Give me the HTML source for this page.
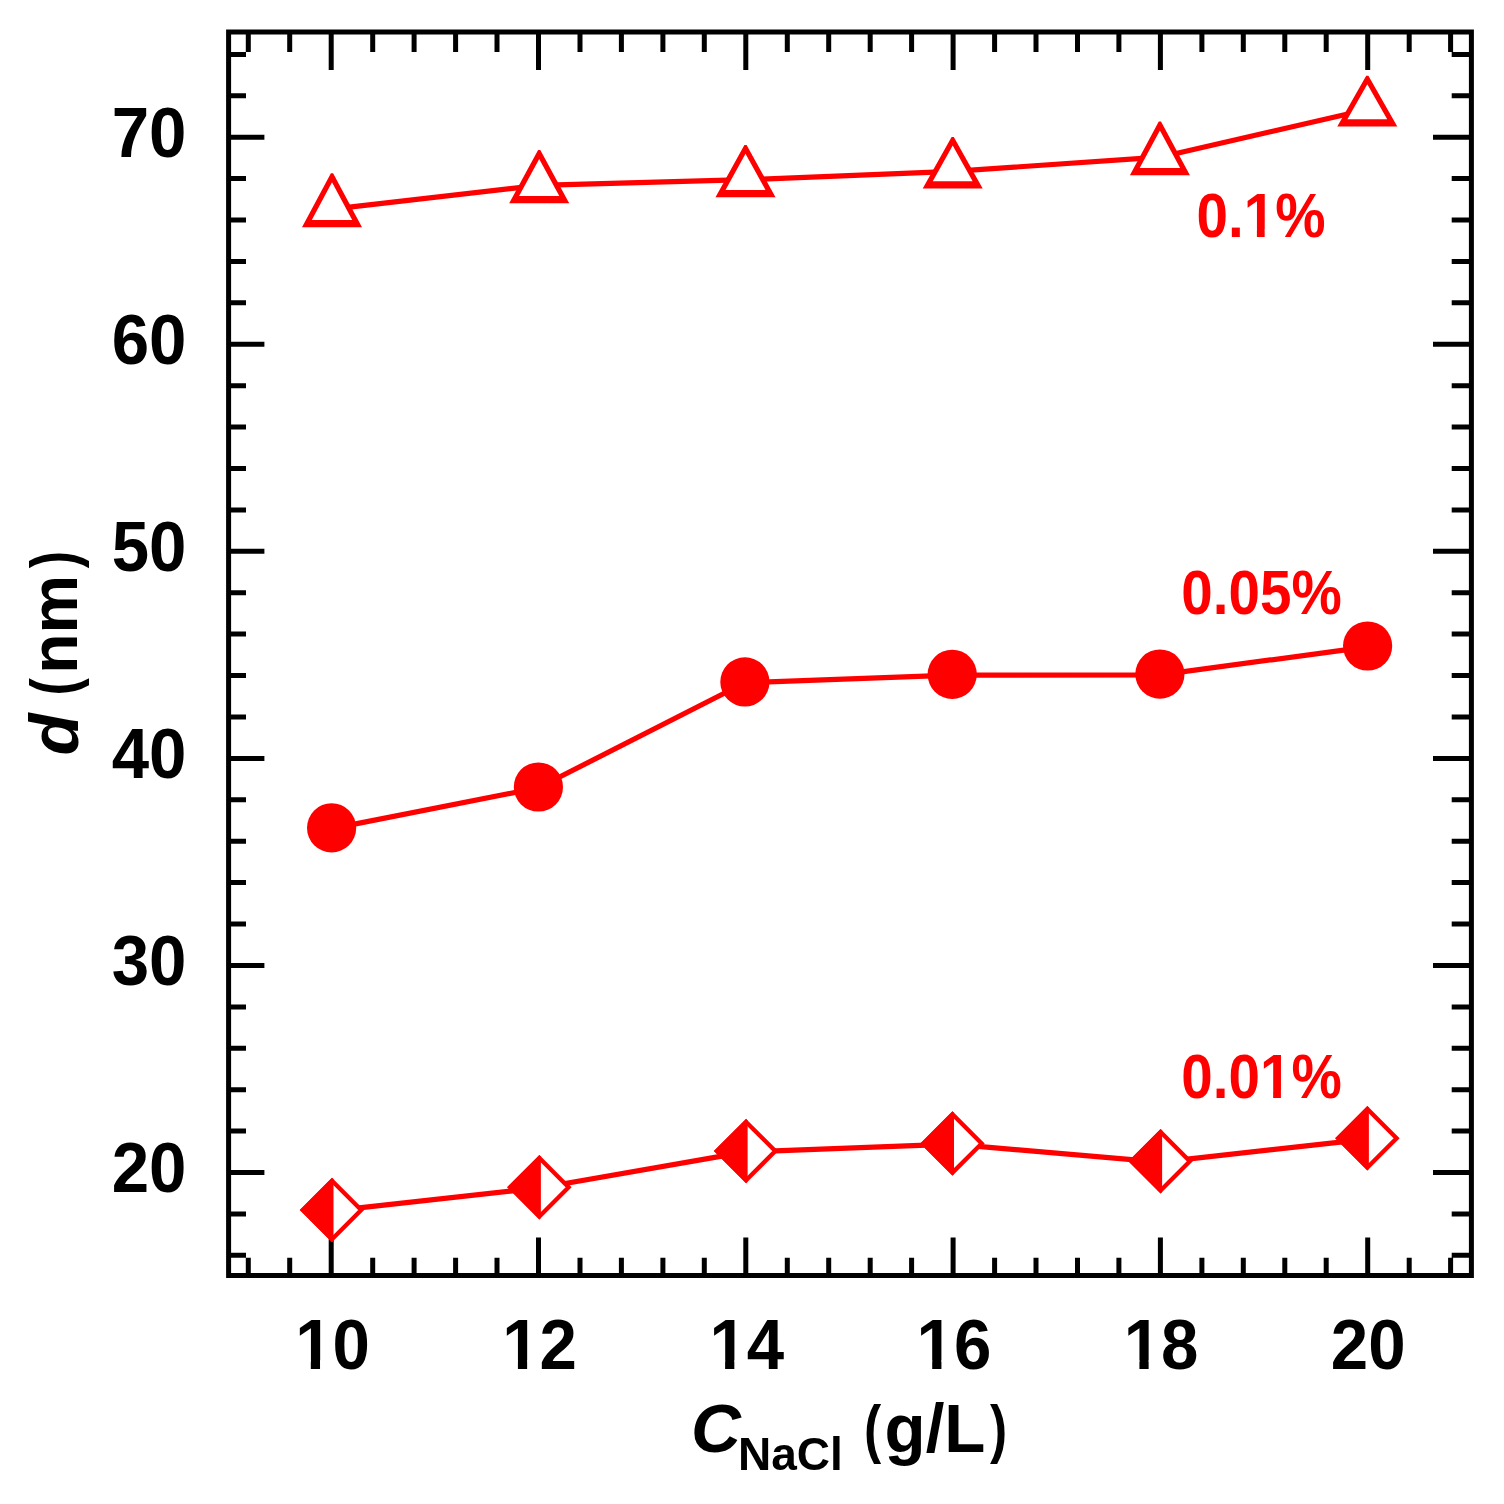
<!DOCTYPE html>
<html><head><meta charset="utf-8"><title>d vs C_NaCl</title>
<style>html,body{margin:0;padding:0;background:#fff;}svg{display:block;}</style></head>
<body><svg width="1504" height="1504" viewBox="0 0 1504 1504">
<rect width="1504" height="1504" fill="#fff"/>
<rect x="228.6" y="32.0" width="1242.8" height="1243.5" fill="none" stroke="#000" stroke-width="5.0"/>
<path d="M248.3 1275.5V1257.7M248.3 32.0V51.9M289.7 1275.5V1257.7M289.7 32.0V51.9M331.2 1275.5V1237.4M331.2 32.0V70.0M372.7 1275.5V1257.7M372.7 32.0V51.9M414.1 1275.5V1257.7M414.1 32.0V51.9M455.6 1275.5V1257.7M455.6 32.0V51.9M497.0 1275.5V1257.7M497.0 32.0V51.9M538.5 1275.5V1237.4M538.5 32.0V70.0M580.0 1275.5V1257.7M580.0 32.0V51.9M621.4 1275.5V1257.7M621.4 32.0V51.9M662.9 1275.5V1257.7M662.9 32.0V51.9M704.3 1275.5V1257.7M704.3 32.0V51.9M745.8 1275.5V1237.4M745.8 32.0V70.0M787.3 1275.5V1257.7M787.3 32.0V51.9M828.7 1275.5V1257.7M828.7 32.0V51.9M870.2 1275.5V1257.7M870.2 32.0V51.9M911.6 1275.5V1257.7M911.6 32.0V51.9M953.1 1275.5V1237.4M953.1 32.0V70.0M994.6 1275.5V1257.7M994.6 32.0V51.9M1036.0 1275.5V1257.7M1036.0 32.0V51.9M1077.5 1275.5V1257.7M1077.5 32.0V51.9M1118.9 1275.5V1257.7M1118.9 32.0V51.9M1160.4 1275.5V1237.4M1160.4 32.0V70.0M1201.9 1275.5V1257.7M1201.9 32.0V51.9M1243.3 1275.5V1257.7M1243.3 32.0V51.9M1284.8 1275.5V1257.7M1284.8 32.0V51.9M1326.2 1275.5V1257.7M1326.2 32.0V51.9M1367.7 1275.5V1237.4M1367.7 32.0V70.0M1409.2 1275.5V1257.7M1409.2 32.0V51.9M1450.6 1275.5V1257.7M1450.6 32.0V51.9M228.6 1255.3H246.0M1471.4 1255.3H1451.7M228.6 1213.9H246.0M1471.4 1213.9H1451.7M228.6 1172.5H264.4M1471.4 1172.5H1433.0M228.6 1131.1H246.0M1471.4 1131.1H1451.7M228.6 1089.7H246.0M1471.4 1089.7H1451.7M228.6 1048.3H246.0M1471.4 1048.3H1451.7M228.6 1006.9H246.0M1471.4 1006.9H1451.7M228.6 965.4H264.4M1471.4 965.4H1433.0M228.6 924.0H246.0M1471.4 924.0H1451.7M228.6 882.6H246.0M1471.4 882.6H1451.7M228.6 841.2H246.0M1471.4 841.2H1451.7M228.6 799.8H246.0M1471.4 799.8H1451.7M228.6 758.4H264.4M1471.4 758.4H1433.0M228.6 717.0H246.0M1471.4 717.0H1451.7M228.6 675.6H246.0M1471.4 675.6H1451.7M228.6 634.1H246.0M1471.4 634.1H1451.7M228.6 592.7H246.0M1471.4 592.7H1451.7M228.6 551.3H264.4M1471.4 551.3H1433.0M228.6 509.9H246.0M1471.4 509.9H1451.7M228.6 468.5H246.0M1471.4 468.5H1451.7M228.6 427.1H246.0M1471.4 427.1H1451.7M228.6 385.7H246.0M1471.4 385.7H1451.7M228.6 344.3H264.4M1471.4 344.3H1433.0M228.6 302.8H246.0M1471.4 302.8H1451.7M228.6 261.4H246.0M1471.4 261.4H1451.7M228.6 220.0H246.0M1471.4 220.0H1451.7M228.6 178.6H246.0M1471.4 178.6H1451.7M228.6 137.2H264.4M1471.4 137.2H1433.0M228.6 95.8H246.0M1471.4 95.8H1451.7M228.6 54.4H246.0M1471.4 54.4H1451.7" fill="none" stroke="#000" stroke-width="5.0"/>
<path d="M332.0 209.1L539.2 185.4L745.5 179.7L952.7 171.3L1159.9 157.2L1367.3 109.5M331.6 828.6L538.4 787.8L744.9 682.7L952.2 675.1L1159.9 674.9L1367.6 646.8M332.0 1210.8L539.4 1188.0L746.1 1151.9L952.5 1144.2L1160.6 1162.1L1367.4 1139.1" fill="none" stroke="#ff0000" stroke-width="5.2" stroke-linejoin="round"/>
<path d="M330.9 173.3L333.1 173.3L362.0 227.2L302.0 227.2ZM538.1 150.0L540.3 150.0L569.2 203.2L509.2 203.2ZM744.4 145.0L746.6 145.0L775.5 197.2L715.5 197.2ZM951.6 137.0L953.8 137.0L982.7 188.5L922.7 188.5ZM1158.8 121.6L1161.0 121.6L1189.9 175.2L1129.9 175.2ZM1366.2 75.7L1368.4 75.7L1397.3 126.5L1337.3 126.5Z" fill="#ff0000"/>
<path d="M332.0 182.3L352.2 219.9L311.8 219.9ZM539.2 158.9L559.3 195.9L519.1 195.9ZM745.5 153.7L765.5 189.9L725.5 189.9ZM952.7 145.6L972.6 181.2L932.8 181.2ZM1159.9 130.6L1180.1 167.9L1139.7 167.9ZM1367.3 84.2L1387.2 119.2L1347.4 119.2Z" fill="#fff"/>
<circle cx="331.6" cy="827.8" r="24.6" fill="#ff0000"/>
<circle cx="538.4" cy="787.0" r="24.6" fill="#ff0000"/>
<circle cx="744.9" cy="681.9" r="24.6" fill="#ff0000"/>
<circle cx="952.2" cy="674.3" r="24.6" fill="#ff0000"/>
<circle cx="1159.9" cy="674.1" r="24.6" fill="#ff0000"/>
<circle cx="1367.6" cy="646.0" r="24.6" fill="#ff0000"/>
<path d="M332.0 1180.8L361.2 1210.0L332.0 1239.2L302.8 1210.0Z" fill="#fff" stroke="#ff0000" stroke-width="4.3" stroke-linejoin="miter"/>
<path d="M299.8 1210.0L332.0 1177.8L333.5 1179.3L333.5 1240.7L332.0 1242.2Z" fill="#ff0000"/>
<path d="M539.4 1158.0L568.6 1187.2L539.4 1216.4L510.2 1187.2Z" fill="#fff" stroke="#ff0000" stroke-width="4.3" stroke-linejoin="miter"/>
<path d="M507.2 1187.2L539.4 1155.0L540.9 1156.5L540.9 1217.9L539.4 1219.4Z" fill="#ff0000"/>
<path d="M746.1 1121.9L775.3 1151.1L746.1 1180.3L716.9 1151.1Z" fill="#fff" stroke="#ff0000" stroke-width="4.3" stroke-linejoin="miter"/>
<path d="M713.9 1151.1L746.1 1118.9L747.6 1120.4L747.6 1181.8L746.1 1183.3Z" fill="#ff0000"/>
<path d="M952.5 1114.2L981.7 1143.4L952.5 1172.6L923.3 1143.4Z" fill="#fff" stroke="#ff0000" stroke-width="4.3" stroke-linejoin="miter"/>
<path d="M920.3 1143.4L952.5 1111.2L954.0 1112.7L954.0 1174.1L952.5 1175.6Z" fill="#ff0000"/>
<path d="M1160.6 1132.1L1189.8 1161.3L1160.6 1190.5L1131.4 1161.3Z" fill="#fff" stroke="#ff0000" stroke-width="4.3" stroke-linejoin="miter"/>
<path d="M1128.4 1161.3L1160.6 1129.1L1162.1 1130.6L1162.1 1192.0L1160.6 1193.5Z" fill="#ff0000"/>
<path d="M1367.4 1109.1L1396.6 1138.3L1367.4 1167.5L1338.2 1138.3Z" fill="#fff" stroke="#ff0000" stroke-width="4.3" stroke-linejoin="miter"/>
<path d="M1335.2 1138.3L1367.4 1106.1L1368.9 1107.6L1368.9 1169.0L1367.4 1170.5Z" fill="#ff0000"/>
<g font-family="'Liberation Sans', Arial, sans-serif" font-weight="bold" font-size="70" fill="#000"><text transform="translate(186.5 1192.2) scale(0.96 1)" text-anchor="end">20</text><text transform="translate(186.5 985.1) scale(0.96 1)" text-anchor="end">30</text><text transform="translate(186.5 778.1) scale(0.96 1)" text-anchor="end">40</text><text transform="translate(186.5 571.0) scale(0.96 1)" text-anchor="end">50</text><text transform="translate(186.5 364.0) scale(0.96 1)" text-anchor="end">60</text><text transform="translate(186.5 156.9) scale(0.96 1)" text-anchor="end">70</text><g transform="translate(332.5 1368.8) scale(0.96 1)"><text text-anchor="middle">10</text><rect x="-35.52" y="-8.44" width="12.93" height="9.94" fill="#fff"/><rect x="-12.99" y="-8.44" width="12.04" height="9.94" fill="#fff"/></g><g transform="translate(539.6 1368.8) scale(0.96 1)"><text text-anchor="middle">12</text><rect x="-35.52" y="-8.44" width="12.93" height="9.94" fill="#fff"/><rect x="-12.99" y="-8.44" width="12.04" height="9.94" fill="#fff"/></g><g transform="translate(746.8 1368.8) scale(0.96 1)"><text text-anchor="middle">14</text><rect x="-35.52" y="-8.44" width="12.93" height="9.94" fill="#fff"/><rect x="-12.99" y="-8.44" width="12.04" height="9.94" fill="#fff"/></g><g transform="translate(953.9 1368.8) scale(0.96 1)"><text text-anchor="middle">16</text><rect x="-35.52" y="-8.44" width="12.93" height="9.94" fill="#fff"/><rect x="-12.99" y="-8.44" width="12.04" height="9.94" fill="#fff"/></g><g transform="translate(1161.1 1368.8) scale(0.96 1)"><text text-anchor="middle">18</text><rect x="-35.52" y="-8.44" width="12.93" height="9.94" fill="#fff"/><rect x="-12.99" y="-8.44" width="12.04" height="9.94" fill="#fff"/></g><g transform="translate(1368.2 1368.8) scale(0.96 1)"><text text-anchor="middle">20</text></g></g>
<g font-family="'Liberation Sans', Arial, sans-serif" font-weight="bold" font-size="63" fill="#ff0000"><g transform="translate(1196.5 237.2) scale(0.898 1)"><text>0.1%</text><rect x="55.51" y="-7.73" width="11.74" height="9.23" fill="#fff"/><rect x="75.89" y="-7.73" width="10.94" height="9.23" fill="#fff"/></g><g transform="translate(1181.3 613.6) scale(0.898 1)"><text>0.05%</text></g><g transform="translate(1181.3 1098.2) scale(0.898 1)"><text>0.01%</text><rect x="90.55" y="-7.73" width="11.74" height="9.23" fill="#fff"/><rect x="110.93" y="-7.73" width="10.94" height="9.23" fill="#fff"/></g></g>
<g font-family="'Liberation Sans', Arial, sans-serif" font-weight="bold" fill="#000"><text x="691" y="1452" font-size="69" font-style="italic">C</text><text x="738" y="1470" font-size="46">NaCl</text><text transform="translate(864.1 1451) scale(0.8 1)" font-size="64.4">(</text><text transform="translate(884.6 1452) scale(0.975 1)" font-size="69">g/L</text><text transform="translate(989.9 1451) scale(0.8 1)" font-size="64.4">)</text></g>
<g font-family="'Liberation Sans', Arial, sans-serif" font-weight="bold" font-size="69" fill="#000"><text transform="translate(78.3 755.5) rotate(-90)" font-style="italic">d</text><text transform="translate(76.2 695.4) rotate(-90) scale(0.8 1)" font-size="65.3">(</text><text transform="translate(77.0 673.75) rotate(-90)" font-size="66">nm</text><text transform="translate(76.2 568.3) rotate(-90) scale(0.8 1)" font-size="65.3">)</text></g>
</svg></body></html>
